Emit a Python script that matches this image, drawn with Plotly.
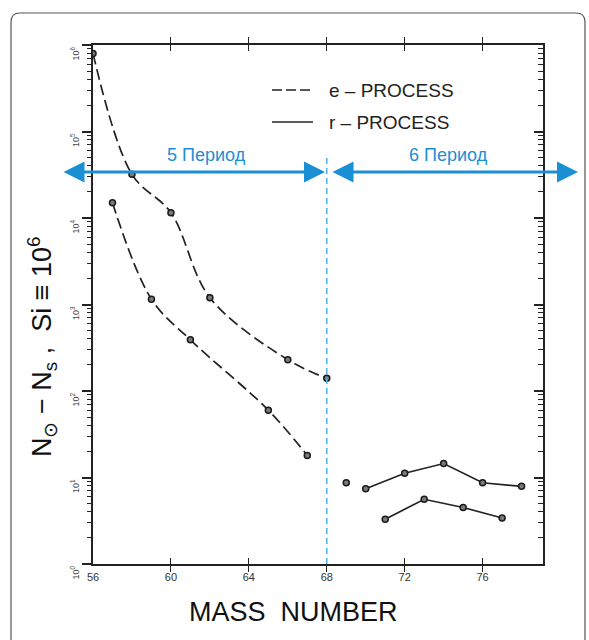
import plotly.graph_objects as go

# ---- data ----
e_mass = [56, 58, 60, 62, 66, 68]
e_abund = [8.0e5, 3.2e4, 1.15e4, 1.2e3, 230, 140]

r_mass = [57, 59, 61, 65, 67]
r_abund = [1.5e4, 1.15e3, 390, 60, 18]

p6_upper_mass = [70, 72, 74, 76, 78]
p6_upper_abund = [7.4, 11.2, 14.5, 8.7, 7.9]

p6_single_mass = [69]
p6_single_abund = [8.7]

p6_lower_mass = [71, 73, 75, 77]
p6_lower_abund = [3.3, 5.6, 4.5, 3.4]

x_ticks = [56, 60, 64, 68, 72, 76]
y_decades = [1, 10, 100, 1000, 10000, 100000, 1000000]
y_tick_text = ["10<sup>0</sup>", "10<sup>1</sup>", "10<sup>2</sup>", "10<sup>3</sup>",
               "10<sup>4</sup>", "10<sup>5</sup>", "10<sup>6</sup>"]
minor_multipliers = [2, 3, 4, 5, 6, 7, 8, 9]
y_minor = [m * d for d in y_decades[:-1] for m in minor_multipliers]
period_boundary = 68
periods = ["5 Период", "6 Период"]

# ---- layout geometry ----
W, H = 589, 640
L, R, T, B = 93, 543, 45, 564


def px(xp):
    return (xp - L) / (R - L)


def py(yp):
    return (B - yp) / (B - T)


INK = "#222222"
BLUE = "#1b8fd4"
LIGHTBLUE = "#52b7e8"
FONT = "Liberation Sans, Arial, sans-serif"

marker = dict(symbol="circle", size=6, color="#7a7a7a", line=dict(color="#1a1a1a", width=1.5))
dash = "11px,5px"

fig = go.Figure()
fig.add_trace(go.Scatter(x=e_mass, y=e_abund, mode="lines+markers", line_shape="spline",
                         line=dict(color=INK, width=1.7, dash=dash), marker=marker,
                         name="e – PROCESS"))
fig.add_trace(go.Scatter(x=r_mass, y=r_abund, mode="lines+markers", line_shape="spline",
                         line=dict(color=INK, width=1.7, dash=dash), marker=marker,
                         name="r – PROCESS"))
fig.add_trace(go.Scatter(x=p6_upper_mass, y=p6_upper_abund, mode="lines+markers",
                         line=dict(color=INK, width=1.7), marker=marker))
fig.add_trace(go.Scatter(x=p6_single_mass, y=p6_single_abund, mode="markers", marker=marker))
fig.add_trace(go.Scatter(x=p6_lower_mass, y=p6_lower_abund, mode="lines+markers",
                         line=dict(color=INK, width=1.7), marker=marker))
# helper axes for minor ticks and right-hand inside ticks
for ax in ["y2", "y3", "y4"]:
    fig.add_trace(go.Scatter(x=[60], y=[10], yaxis=ax, mode="markers",
                             marker=dict(opacity=0), hoverinfo="skip"))

helper = dict(type="log", range=[0, 6], overlaying="y", showticklabels=False, anchor="x",
              showline=False, showgrid=False, zeroline=False, tickcolor=INK)

fig.update_layout(
    width=W, height=H,
    margin=dict(l=L, r=W - R, t=T, b=H - B),
    paper_bgcolor="white", plot_bgcolor="white",
    showlegend=False,
    font=dict(family=FONT, color=INK),
    xaxis=dict(range=[56, 79.1], tickvals=x_ticks, ticks="inside", ticklen=6, tickwidth=1.3,
               tickcolor=INK, showline=True, linecolor=INK, linewidth=1.6, mirror="allticks",
               showgrid=False, zeroline=False, tickfont=dict(size=11, color="#333"),
               ticklabelstandoff=2),
    yaxis=dict(type="log", range=[0, 6], tickvals=y_decades, ticktext=y_tick_text,
               ticks="outside", ticklen=9, tickwidth=1.6, tickcolor=INK,
               showline=True, linecolor=INK, linewidth=1.6,
               showgrid=False, zeroline=False, tickangle=-90,
               tickfont=dict(size=9, color="#444"), ticklabelshift=10),
    yaxis2=dict(helper, side="right", tickvals=y_decades, ticks="inside", ticklen=9, tickwidth=1.6,
                showline=True, linecolor=INK, linewidth=1.6),
    yaxis3=dict(helper, side="left", tickvals=y_minor, ticks="outside", ticklen=5, tickwidth=1.3),
    yaxis4=dict(helper, side="right", tickvals=y_minor, ticks="inside", ticklen=5, tickwidth=1.3),
)

shapes = []
# period boundary dashed line
shapes.append(dict(type="line", xref="x", yref="paper", x0=period_boundary, x1=period_boundary,
                   y0=0, y1=py(156), line=dict(color=LIGHTBLUE, width=1.6, dash="6px,4px")))
# legend samples
shapes.append(dict(type="line", xref="paper", yref="paper", x0=px(272), x1=px(313),
                   y0=py(90), y1=py(90), line=dict(color=INK, width=1.7, dash="10px,4px")))
shapes.append(dict(type="line", xref="paper", yref="paper", x0=px(272), x1=px(313),
                   y0=py(122), y1=py(122), line=dict(color=INK, width=1.7)))
# rounded outer frame
x0, y0, x1, y1, rr = 11, 13, 585, 660, 9
path = (f"M {px(x0)},{py(y0 + rr)} L {px(x0)},{py(y1)} "
        f"M {px(x0)},{py(y0 + rr)} Q {px(x0)},{py(y0)} {px(x0 + rr)},{py(y0)} "
        f"L {px(x1 - rr)},{py(y0)} Q {px(x1)},{py(y0)} {px(x1)},{py(y0 + rr)} L {px(x1)},{py(y1)}")
shapes.append(dict(type="path", xref="paper", yref="paper", path=path, layer="below",
                   fillcolor="rgba(0,0,0,0)", line=dict(color="#555", width=1.2)))
fig.update_layout(shapes=shapes)

ann = []
# legend texts
ann.append(dict(xref="paper", yref="paper", x=px(327), y=py(90), text="e – PROCESS",
                showarrow=False, xanchor="left", yanchor="middle", font=dict(size=19, color=INK)))
ann.append(dict(xref="paper", yref="paper", x=px(327), y=py(122), text="r – PROCESS",
                showarrow=False, xanchor="left", yanchor="middle", font=dict(size=19, color=INK)))
# period arrows (double headed)
arrow_y = py(172)
for xa, xb in [(62, 325), (331, 578)]:
    ann.append(dict(xref="paper", yref="paper", x=px(xb), y=arrow_y, axref="pixel", ayref="pixel",
                    ax=-(xb - xa), ay=0, showarrow=True, arrowhead=2, startarrowhead=2,
                    arrowside="end+start", arrowsize=1.5, startarrowsize=1.5,
                    arrowwidth=2.8, arrowcolor=BLUE, text="", standoff=0, startstandoff=0))
ann.append(dict(xref="paper", yref="paper", x=px(206), y=py(155), text=periods[0],
                xanchor="center", yanchor="middle",
                showarrow=False, font=dict(size=18, color=BLUE)))
ann.append(dict(xref="paper", yref="paper", x=px(448), y=py(155), text=periods[1],
                xanchor="center", yanchor="middle",
                showarrow=False, font=dict(size=18, color=BLUE)))
# axis titles
ann.append(dict(xref="paper", yref="paper", x=px(293), y=py(612), text="MASS&nbsp;&nbsp;NUMBER",
                xanchor="center", yanchor="middle",
                showarrow=False, font=dict(size=27, color="#111")))
ann.append(dict(xref="paper", yref="paper", x=px(42), y=py(347), textangle=-90,
                xanchor="center", yanchor="middle",
                text="N<sub>⊙</sub> − N<sub>s</sub> ,  Si ≡ 10<sup>6</sup>",
                showarrow=False, font=dict(size=27, color="#111")))
fig.update_layout(annotations=ann)

fig.write_html("out.html")
